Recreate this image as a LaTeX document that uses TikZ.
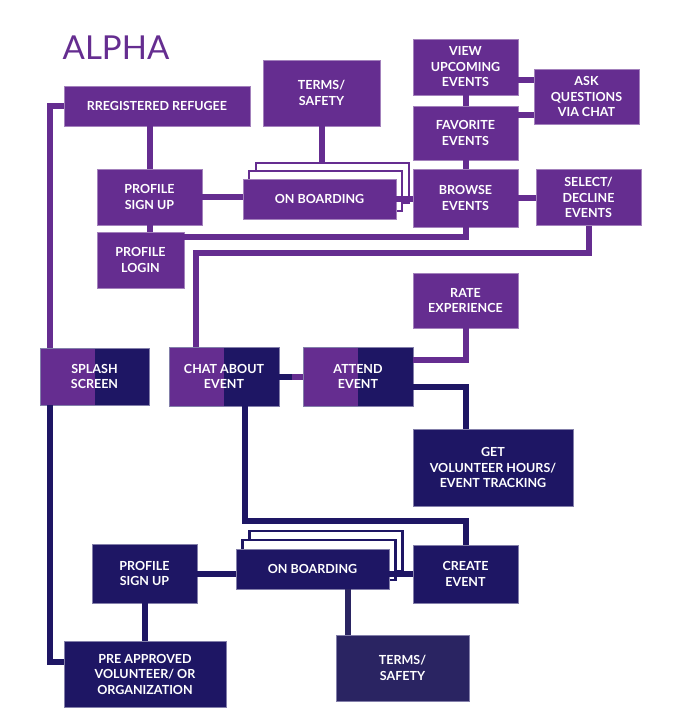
\documentclass[tikz,border=0pt]{standalone}
\usepackage{fontspec}
\newfontfamily\latofont{Lato}
\newcommand\boxfont{\latofont\bfseries\fontsize{12.5}{15.5}\selectfont}
\definecolor{purp}{HTML}{652D90}
\definecolor{navy}{HTML}{1E1664}
\definecolor{navyb}{HTML}{2A2462}

\begin{document}
\begin{tikzpicture}[x=1pt,y=-1pt,
    box/.style={rectangle,inner sep=0pt,align=center,text=white,font=\boxfont,fill=purp,draw=purp!60!white,line width=0.6pt,minimum width=105,minimum height=56},
    navybox/.style={box,fill=navy,draw=navy!55!white},
    splitbox/.style={navybox,path picture={\fill[purp] (path picture bounding box.south west) rectangle (path picture bounding box.north);}},
    stackbox/.style={rectangle,fill=white,draw=purp,line width=2.5pt,minimum width=153,minimum height=40},
    wire/.style={draw=purp,line width=6pt},
    navywire/.style={wire,draw=navy}]
        \useasboundingbox (0,0) rectangle (698,720);
        \node[font=\latofont\fontsize{33}{33}\selectfont,text=purp,inner sep=0pt] at (116,48) (title) {ALPHA};
        \node[box,minimum width=186,minimum height=40] at (157,106) (refugee) {RREGISTERED REFUGEE};
        \node[box,minimum width=117,minimum height=66] at (321.5,93) (terms) {TERMS/\\SAFETY};
        \node[box] at (149.5,197) (signup) {PROFILE\\SIGN UP};
        \node[box,minimum width=87] at (140.5,260) (login) {PROFILE\\LOGIN};
        \node[stackbox] at (332.5,183) (ob3) {};
        \node[stackbox] at (325.5,191) (ob2) {};
        \node[box,minimum width=153,minimum height=40] at (319.5,199) (onboard) {ON BOARDING};
        \node[box] at (465.5,67) (view) {VIEW\\UPCOMING\\EVENTS};
        \node[box,minimum height=55] at (586.5,96.5) (ask) {ASK\\QUESTIONS\\VIA CHAT};
        \node[box,minimum height=54] at (465.5,133) (fav) {FAVORITE\\EVENTS};
        \node[box,minimum height=58] at (465.5,198) (browse) {BROWSE\\EVENTS};
        \node[box] at (588.5,197.5) (select) {SELECT/\\DECLINE\\EVENTS};
        \node[box,minimum height=55] at (465.5,300.5) (rate) {RATE\\EXPERIENCE};
        \node[splitbox,minimum width=109,minimum height=57] at (94.5,376.5) (splash) {SPLASH\\SCREEN};
        \node[splitbox,minimum width=110,minimum height=59] at (224,376.5) (chat) {CHAT ABOUT\\EVENT};
        \node[splitbox,minimum width=110,minimum height=59] at (358,376.5) (attend) {ATTEND\\EVENT};
        \node[navybox,minimum width=160,minimum height=77] at (493,467.5) (volunteer) {GET\\VOLUNTEER HOURS/\\EVENT TRACKING};
        \node[navybox,minimum height=58] at (465.5,574) (create) {CREATE\\EVENT};
        \node[navybox,minimum height=59] at (144.5,573.5) (pvsign) {PROFILE\\SIGN UP};
        \node[stackbox,draw=navy] at (326,551) (pvob3) {};
        \node[stackbox,draw=navy] at (319,560) (pvob2) {};
        \node[navybox,minimum width=153,minimum height=40] at (312.5,569) (pvob) {ON BOARDING};
        \node[navybox,fill=navyb,minimum width=133,minimum height=66] at (402.5,668) (pvterms) {TERMS/\\SAFETY};
        \node[navybox,minimum width=162,minimum height=66] at (145,674) (preapp) {PRE APPROVED\\VOLUNTEER/ OR\\ORGANIZATION};
        \coordinate (sj) at ([xshift=10pt]splash.north west);
        \coordinate (sjb) at ([xshift=10pt]splash.south west);
        \coordinate (va) at ([yshift=-13pt]view.east);
        \coordinate (fa) at ([yshift=18pt]fav.east);
        \coordinate (bl) at ([yshift=-5pt]login.north east);
        \coordinate (ch) at ([xshift=-28pt]chat.north);
        \coordinate (ar) at ([yshift=17pt]attend.east);
        \coordinate (av) at ([yshift=-10pt]attend.east);
        \coordinate (cc) at ([xshift=21pt]chat.south);
        \coordinate (tt) at ([xshift=12pt]pvterms.north west);
        \draw[wire] (refugee.west) -| (sj);
        \draw[wire] (signup.north) -- (signup.north |- refugee.south);
        \draw[wire] (signup.south) -- (signup.south |- login.north);
        \draw[wire] (signup.east) -- (signup.east -| onboard.west);
        \draw[wire] (terms.south) -- (terms.south |- ob3.north);
        \draw[wire] (onboard.east) -- (onboard.east -| browse.west);
        \draw[wire] (view.south) -- (fav.north);
        \draw[wire] (fav.south) -- (browse.north);
        \draw[wire] (va) -- (va -| ask.west);
        \draw[wire] (fa) -- (fa -| ask.west);
        \draw[wire] (browse.east) -- (browse.east -| select.west);
        \draw[wire] (browse.south) |- (bl);
        \draw[wire] (select.south) -- ++(0,27) -| (ch);
        \draw[wire] (rate.south) |- (ar);
        \draw[wire] (attend.west) -- ++(-12,0);
        \draw[navywire] (chat.east) -- ++(13,0);
        \draw[navywire] (av) -| (rate.south |- volunteer.north);
        \draw[navywire] (cc) -- ++(0,115) -| (create.north);
        \draw[navywire] (sjb) |- ([yshift=12pt]preapp.west);
        \draw[navywire] (pvsign.south) -- (pvsign.south |- preapp.north);
        \draw[navywire] (pvsign.east) -- (pvsign.east -| pvob.west);
        \draw[navywire] (create.west -| pvob.east) -- (create.west);
        \draw[navywire,draw=navyb] (tt) -- (tt |- pvob.south);
    \end{tikzpicture}
\end{document}
